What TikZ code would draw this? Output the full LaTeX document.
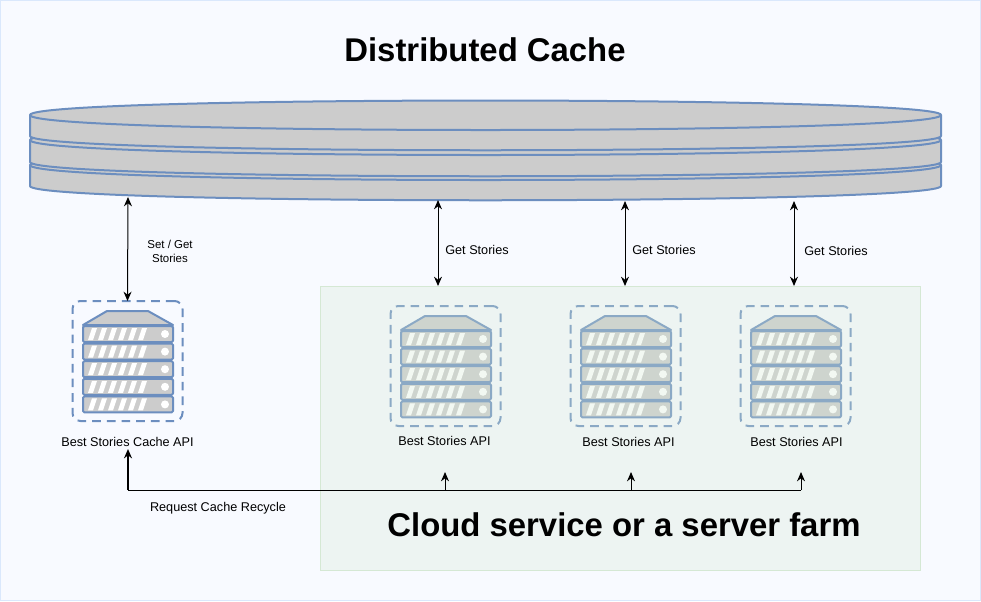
\documentclass[tikz,border=0pt]{standalone}
\usepackage{fontspec}
\setmainfont{Liberation Sans}
\usetikzlibrary{arrows.meta}
\definecolor{bgc}{HTML}{F8FAFF}
\definecolor{edgec}{HTML}{DAE8FC}
\definecolor{blu}{HTML}{6C8EBF}
\definecolor{gry}{HTML}{CCCCCC}
\definecolor{grn}{HTML}{D5E8D4}
\tikzset{
  x=0.75pt,y=-0.75pt,
  shape line/.style={draw=blu,line width=1.5pt,fill=gry,line join=round},
  srvbox/.style={draw=blu,line width=1.5pt,dash pattern=on 6.5pt off 4.5pt,rounded corners=6pt,minimum width=82.5pt,minimum height=90pt,inner sep=0pt,outer sep=0pt,anchor=north west},
  lbl/.style={font=\fontsize{9.5}{11.5}\selectfont,align=center,text=black},
  lblsmall/.style={font=\fontsize{8.6}{10.5}\selectfont,align=center,text=black},
  big/.style={font=\fontsize{24.65}{28}\selectfont\bfseries,text=black},
  link/.style={line width=0.75pt,black},
  tip/.style={-{Stealth[length=7pt,width=6pt]}},
  tips/.style={{Stealth[length=7pt,width=6pt]}-{Stealth[length=7pt,width=6pt]}},
  srv/.pic={
    \draw[shape line] (11,24) -- (35,10) -- (76,10) -- (101,24) -- cycle;
    \foreach \k in {0,1,2,3,4}{
      \draw[shape line,rounded corners=1pt] (11,25+17.6*\k) rectangle (101,41+17.6*\k);
      \foreach \i in {0,...,5}{
        \fill[white] (16+10*\i,39+17.6*\k) -- (21+10*\i,39+17.6*\k) -- (25+10*\i,27+17.6*\k) -- (20+10*\i,27+17.6*\k) -- cycle;
      }
      \fill[white] (93,33+17.6*\k) circle[radius=3pt];
    }
  }
}
\newcommand{\diskpart}[2]{%
  \draw[shape line] (30,#1) .. controls (30,#1-19.3) and (941,#1-19.3) .. (941,#1) -- (941,#2) .. controls (941,#2+19) and (30,#2+19) .. (30,#2) -- cycle;
  \draw[shape line,fill=none] (30,#1) .. controls (30,#1+20) and (941,#1+20) .. (941,#1);
}
\begin{document}
\begin{tikzpicture}
\useasboundingbox (0,0) rectangle (981,601);
\draw[draw=edgec,fill=bgc,line width=0.75pt] (0.5,0.5) rectangle (980.5,600.5);
% disks
\diskpart{165}{186}
\diskpart{140}{162}
\diskpart{115}{136}
% servers
\node[srvbox] (s0) at (72.5,301) {};
\path (72,301) pic {srv};
\node[srvbox] (s1) at (390.5,306) {};
\path (390,306) pic {srv};
\node[srvbox] (s2) at (570.5,306) {};
\path (570,306) pic {srv};
\node[srvbox] (s3) at (740.5,306) {};
\path (740,306) pic {srv};
% panel
\node[draw=grn,fill=grn,fill opacity=0.3,line width=0.75pt,outer sep=0pt,minimum width=450pt,minimum height=213pt,inner sep=0pt,anchor=north west] (panel) at (320.5,286.5) {};
% texts
\node[big] (title) at (485,50) {Distributed Cache};
\node[big] (cloud) at (624,525) {Cloud service or a server farm};
\node[lbl] (l0) at (127.5,442) {Best Stories Cache API};
\node[lbl] (l1) at (444.5,441) {Best Stories API};
\node[lbl] (l2) at (628.5,442) {Best Stories API};
\node[lbl] (l3) at (796.5,442) {Best Stories API};
\node[lblsmall] (g0) at (170,251) {Set / Get\\Stories};
\node[lbl] (g1) at (477,250) {Get Stories};
\node[lbl] (g2) at (664,250) {Get Stories};
\node[lbl] (g3) at (836,251) {Get Stories};
\node[lbl] (req) at (218,508) {Request Cache Recycle};
% connector ends
\coordinate (d0) at (128,197);
\coordinate (d1) at (438,200);
\coordinate (d2) at (625,201);
\coordinate (d3) at (794,201);
\coordinate (p1) at (438,286);
\coordinate (p2) at (625,286);
\coordinate (p3) at (794,286);
\coordinate (c0) at (128,449);
\coordinate (c1) at (128,490);
\coordinate (c2) at (445,490);
\coordinate (c3) at (631,490);
\coordinate (c4) at (801,490);
\coordinate (u1) at (445,472);
\coordinate (u2) at (631,472);
\coordinate (u3) at (801,472);
% connectors
\draw[link,tips] (d0) -- (s0.north);
\draw[link,tips] (d1) -- (p1);
\draw[link,tips] (d2) -- (p2);
\draw[link,tips] (d3) -- (p3);
\draw[link,tip] (c2) -- (u1);
\draw[link,tip] (c3) -- (u2);
\draw[link,tip] (c4) -- (u3);
\draw[link] (c1) -- (c4);
\draw[black,line width=1.5pt,tip] (c1) -- (c0);
\end{tikzpicture}
\end{document}
